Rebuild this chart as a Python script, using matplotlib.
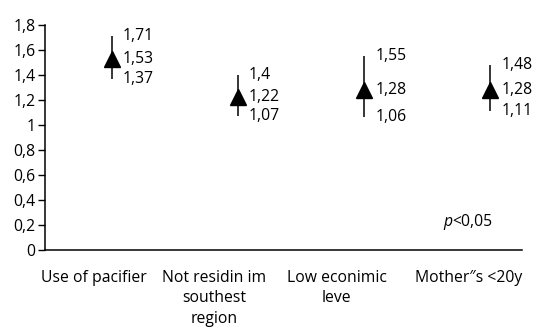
import matplotlib
matplotlib.use('Agg')

import matplotlib.pyplot as plt
from matplotlib.ticker import FuncFormatter

plt.rcParams['font.family'] = ['Open Sans', 'DejaVu Sans']

categories = ["Use of pacifier", "Not residin im\nsouthest\nregion",
              "Low econimic\nleve", "Mother\u2033s <20y"]
estimate = [1.53, 1.22, 1.28, 1.28]
lower = [1.37, 1.07, 1.06, 1.11]
upper = [1.71, 1.40, 1.55, 1.48]
value_labels = [("1,71", "1,53", "1,37"), ("1,4", "1,22", "1,07"),
                ("1,55", "1,28", "1,06"), ("1,48", "1,28", "1,11")]

fs = 11.3
fig = plt.figure(figsize=(5.52, 3.29), dpi=100)
ax = fig.add_axes([45 / 552, 1 - 249.5 / 329, 477 / 552, 224.5 / 329])

x = list(range(len(categories)))
ax.vlines(x, lower, upper, color='black', linewidth=1.1)
ax.plot(x, estimate, '^', color='black', markersize=11.5, linestyle='none')

for xi, lo, mid, hi, labs in zip(x, lower, estimate, upper, value_labels):
    for v, s in zip((hi, mid, lo), labs):
        ax.annotate(s, (xi, v), xytext=(11, 0), textcoords='offset pixels',
                    va='center', ha='left', fontsize=fs)

ax.set_xlim(-0.53, 3.25)
ax.set_ylim(0, 1.8)
ax.set_yticks([i * 0.2 for i in range(10)])
ax.yaxis.set_major_formatter(FuncFormatter(
    lambda v, p: ('%g' % round(v, 1)).replace('.', ',')))
ax.tick_params(axis='y', length=5, width=1, pad=2, labelsize=fs)
ax.set_xticks([])
ax.spines['top'].set_visible(False)
ax.spines['right'].set_visible(False)
ax.spines['left'].set_linewidth(1.1)
ax.spines['bottom'].set_linewidth(1.1)

# category labels sit a bit left of the markers
label_pos = [-0.14, 0.81, 1.78, 2.83]
for xp, lab in zip(label_pos, categories):
    ax.annotate(lab, (xp, 0), xytext=(0, -20), textcoords='offset pixels',
                ha='center', va='top', fontsize=fs, linespacing=1.4,
                annotation_clip=False)

ax.text(2.70, 0.22, 'p', fontsize=fs, style='italic', ha='right', va='center')
ax.text(2.70, 0.22, '<0,05', fontsize=fs, ha='left', va='center')

fig.savefig('out.png', dpi=100)
